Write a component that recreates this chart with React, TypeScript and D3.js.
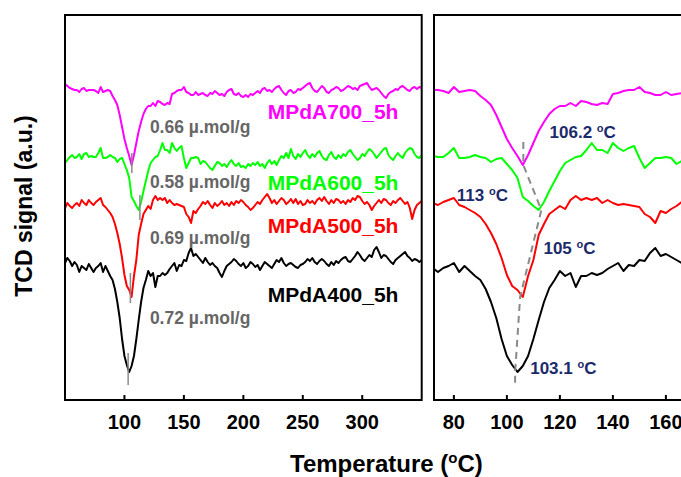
import * as d3 from 'd3'

const temps = [
  50, 52, 54, 56, 58, 60, 62, 64, 66, 68, 70,
  72, 74, 76, 78, 80, 82, 84, 86, 88, 90, 92, 94, 96, 98, 100,
  102, 104, 106, 108, 110, 112, 114, 116, 118, 120, 122, 124, 126, 128, 130,
  132, 134, 136, 138, 140, 142, 144, 146, 148, 150, 152, 154, 156, 158, 160,
  162, 164, 166, 168, 170, 172, 174, 176, 178, 180, 182, 184, 186, 188, 190,
  192, 194, 196, 198, 200, 202, 204, 206, 208, 210, 212, 214, 216, 218, 220,
  222, 224, 226, 228, 230, 232, 234, 236, 238, 240, 242, 244, 246, 248, 250,
  252, 254, 256, 258, 260, 262, 264, 266, 268, 270, 272, 274, 276, 278, 280,
  282, 284, 286, 288, 290, 292, 294, 296, 298, 300, 302, 304, 306, 308, 310,
  312, 314, 316, 318, 320, 322, 324, 326, 328, 330, 332, 334, 336, 338, 340,
  342, 344, 346, 348, 350,
]

const mpda700 = [
  316, 314, 312, 311, 310, 310, 308, 311, 312, 309, 310,
  310, 310, 309, 307, 313, 308, 309, 310, 309, 304, 300, 295, 285, 273, 261,
  252, 244, 235, 245, 257, 269, 278, 286, 291, 294, 294, 297, 294, 299, 298,
  296, 295, 297, 296, 306, 307, 309, 310, 310, 313, 308, 307, 305, 305, 308,
  305, 306, 307, 305, 304, 307, 306, 309, 307, 305, 306, 304, 308, 310, 311,
  306, 305, 307, 304, 303, 305, 303, 306, 305, 307, 309, 307, 311, 312, 309,
  310, 308, 311, 313, 314, 310, 307, 305, 309, 310, 307, 308, 311, 310, 312,
  314, 316, 317, 312, 309, 308, 311, 314, 312, 308, 307, 310, 311, 313, 312,
  309, 310, 312, 314, 313, 311, 312, 310, 314, 315, 316, 317, 313, 310, 311,
  312, 310, 307, 304, 302, 306, 308, 309, 311, 310, 313, 314, 312, 310, 309,
  312, 313, 311, 313, 312,
]

const mpda600 = [
  237, 240, 243, 245, 242, 243, 246, 241, 246, 247, 243,
  244, 243, 243, 247, 252, 242, 242, 243, 245, 243, 242, 238, 241, 242, 236,
  230, 222, 203, 199, 194, 190, 198, 209, 219, 229, 237, 240, 243, 244, 250,
  257, 250, 250, 247, 257, 252, 249, 252, 254, 242, 232, 237, 242, 242, 243,
  242, 236, 239, 238, 235, 232, 230, 234, 238, 237, 234, 236, 233, 237, 240,
  236, 234, 237, 233, 234, 232, 236, 234, 237, 235, 238, 234, 236, 232, 237,
  240, 236, 239, 235, 240, 244, 242, 247, 242, 251, 244, 241, 246, 243, 247,
  250, 245, 242, 246, 243, 247, 249, 244, 241, 240, 245, 248, 243, 241, 245,
  242, 246, 244, 248, 250, 246, 243, 240, 242, 246, 244, 248, 251, 249, 246,
  242, 245, 248, 251, 252, 245, 242, 240, 244, 247, 244, 242, 247, 250, 252,
  251, 246, 243, 242, 245,
]

const mpda500 = [
  192, 197, 194, 192, 195, 197, 194, 200, 197, 195, 200,
  197, 195, 198, 200, 202, 195, 193, 190, 187, 183, 176, 167, 156, 142, 125,
  114, 110, 103, 124, 140, 165, 176, 186, 190, 194, 191, 200, 204, 200, 202,
  200, 202, 197, 200, 197, 195, 196, 195, 194, 193, 186, 183, 177, 189, 187,
  191, 194, 198, 196, 199, 195, 192, 197, 194, 196, 199, 195, 197, 194, 198,
  195, 199, 197, 200, 198, 195, 193, 190, 192, 195, 198, 196, 200, 203, 206,
  202, 197, 200, 196, 199, 202, 200, 196, 198, 201, 197, 201, 196, 199, 195,
  196, 200, 197, 199, 196, 200, 202, 199, 203, 199, 196, 200, 197, 201, 200,
  197, 199, 196, 200, 198, 202, 200, 204, 203, 199, 196, 198, 195, 190, 194,
  197, 200, 197, 201, 200, 197, 195, 199, 197, 200, 202, 199, 196, 198, 192,
  181, 190, 195, 197, 199,
]

const mpda400 = [
  137, 142, 139, 134, 138, 135, 128, 134, 132, 130, 136,
  132, 128, 132, 134, 137, 128, 134, 129, 124, 120, 111, 98, 82, 61, 44,
  35, 28, 34, 44, 61, 80, 98, 112, 120, 129, 124, 127, 113, 124, 124,
  127, 125, 127, 131, 134, 137, 129, 135, 134, 140, 139, 147, 152, 144, 146,
  143, 140, 137, 142, 138, 135, 137, 134, 132, 127, 123, 129, 134, 136, 138,
  141, 139, 136, 134, 137, 132, 134, 138, 136, 133, 135, 130, 134, 138, 136,
  134, 132, 136, 140, 138, 142, 137, 134, 136, 137, 135, 133, 132, 135, 136,
  138, 141, 139, 142, 138, 136, 139, 141, 139, 136, 134, 138, 135, 139, 137,
  140, 142, 143, 139, 138, 141, 144, 148, 145, 141, 139, 142, 145, 143, 150,
  153, 148, 142, 145, 144, 141, 138, 136, 140, 142, 144, 146, 148, 144, 142,
  139, 141, 140, 138, 140,
]

const seriesValues = [mpda700, mpda600, mpda500, mpda400]
const seriesNames = ['MPdA700_5h', 'MPdA600_5h', 'MPdA500_5h', 'MPdA400_5h']
const uptakes = ['0.66 µ.mol/g', '0.58 µ.mol/g', '0.69 µ.mol/g', '0.72 µ.mol/g']
const peakTemps = [106.2, 113, 105, 103.1]
const peakLabels = ['106.2', '113', '105', '103.1']
// short grey marks at the peak in the wide panel [top, bottom] in a.u.
const peakMarks = [[247, 227], [205, 180], [127, 97], [47, 15]]
// ends of the dashed guide through the peak minima
const guideEnds = [258, 15]

const leftTicks = [100, 150, 200, 250, 300]
const rightTicks = [80, 100, 120, 140, 160]

const COLORS = ['#ff00ff', '#00ff00', '#ff0000', '#000000']
const FONT = '"Liberation Sans", Arial, sans-serif'
const NAVY = '#1b2a6b'
const GREY = '#666666'

// text anchors in data coords
const nameAt = { t: 220.5, y: [281, 210, 167.5, 98] }
const uptakeAt = { t: 121.4, y: [267, 212, 156.5, 76.5] }
const peakLabelAt = [
  { t: 116.1, y: 261.7 },
  { t: 81.1, y: 199.3 },
  { t: 113.8, y: 146 },
  { t: 108.8, y: 26 },
]

const W = 681
const H = 477
const top = 15
const bottom = 400

export default function App() {
  const xL = d3.scaleLinear().domain([50, 350]).range([65, 421.7])
  const xR = d3.scaleLinear().domain([72.5, 172]).range([434, 697.7])
  const y = d3.scaleLinear().domain([0, 385]).range([bottom, top])

  const pts = (vals: number[]) => temps.map((t, i) => [t, vals[i]] as [number, number])
  const lineL = d3.line<[number, number]>().x(d => xL(d[0])).y(d => y(d[1]))
  const lineR = d3.line<[number, number]>().x(d => xR(d[0])).y(d => y(d[1]))

  const minima = seriesValues.map(v => d3.min(v) as number)
  const guidePts: [number, number][] = [
    [peakTemps[0], guideEnds[0]],
    ...peakTemps.map((t, i) => [t, minima[i]] as [number, number]),
    [peakTemps[3], guideEnds[1]],
  ]
  const guide = d3.line<[number, number]>().x(d => xR(d[0])).y(d => y(d[1]))

  const deg = (x: number, yy: number, txt: string) => (
    <text x={x} y={yy} fill={NAVY} fontSize={17} fontWeight="bold" fontFamily={FONT}>
      {`${txt} `}
      <tspan fontSize={11} dy={-6}>o</tspan>
      <tspan dy={6}>C</tspan>
    </text>
  )

  return (
    <svg width={W} height={H} style={{ position: 'absolute', left: 0, top: 0, background: '#fff' }}>
      <defs>
        <clipPath id="clipL">
          <rect x={65} y={top} width={421.7 - 65} height={bottom - top} />
        </clipPath>
        <clipPath id="clipR">
          <rect x={434} y={top} width={300} height={bottom - top} />
        </clipPath>
      </defs>

      {/* wide panel */}
      <g clipPath="url(#clipL)">
        {seriesValues.map((v, i) => (
          <path key={i} d={lineL(pts(v)) ?? ''} fill="none" stroke={COLORS[i]} strokeWidth={2} strokeLinejoin="round" />
        ))}
        {peakMarks.map((m, i) => (
          <line key={i} x1={xL(peakTemps[i])} x2={xL(peakTemps[i])} y1={y(m[0])} y2={y(m[1])} stroke="#8a8a8a" strokeWidth={1.5} />
        ))}
      </g>
      {uptakes.map((u, i) => (
        <text key={i} x={xL(uptakeAt.t)} y={y(uptakeAt.y[i])} fill={GREY} fontSize={17.5} fontWeight="bold" fontFamily={FONT}>{u}</text>
      ))}
      {seriesNames.map((n, i) => (
        <text key={i} x={xL(nameAt.t)} y={y(nameAt.y[i])} fill={COLORS[i]} fontSize={21} fontWeight="bold" fontFamily={FONT}>{n}</text>
      ))}
      <rect x={65} y={top} width={421.7 - 65} height={bottom - top} fill="none" stroke="#000" strokeWidth={2} />
      {leftTicks.map(t => (
        <g key={t}>
          <line x1={xL(t)} x2={xL(t)} y1={bottom} y2={bottom - 5} stroke="#000" strokeWidth={2} />
          <text x={xL(t)} y={429} textAnchor="middle" fontSize={20} fontWeight="bold" fontFamily={FONT}>{t}</text>
        </g>
      ))}

      {/* zoomed panel */}
      <g clipPath="url(#clipR)">
        {seriesValues.map((v, i) => (
          <path key={i} d={lineR(pts(v)) ?? ''} fill="none" stroke={COLORS[i]} strokeWidth={2} strokeLinejoin="round" />
        ))}
        <path d={guide(guidePts) ?? ''} fill="none" stroke="#8a8a8a" strokeWidth={2} strokeDasharray="7,5" />
      </g>
      {peakLabels.map((p, i) => (
        <g key={i}>{deg(xR(peakLabelAt[i].t), y(peakLabelAt[i].y), p)}</g>
      ))}
      <rect x={434} y={top} width={300} height={bottom - top} fill="none" stroke="#000" strokeWidth={2} />
      {rightTicks.map(t => (
        <g key={t}>
          <line x1={xR(t)} x2={xR(t)} y1={bottom} y2={bottom - 5} stroke="#000" strokeWidth={2} />
          <text x={xR(t)} y={429} textAnchor="middle" fontSize={20} fontWeight="bold" fontFamily={FONT}>{t}</text>
        </g>
      ))}

      {/* axis titles */}
      <text transform="translate(32,206) rotate(-90)" textAnchor="middle" fontSize={23} fontWeight="bold" fontFamily={FONT}>
        TCD signal (a.u.)
      </text>
      <text x={290} y={472} fontSize={24} fontWeight="bold" fontFamily={FONT}>
        {'Temperature ('}
        <tspan fontSize={15} dy={-9}>o</tspan>
        <tspan dy={9}>{'C)'}</tspan>
      </text>
    </svg>
  )
}
